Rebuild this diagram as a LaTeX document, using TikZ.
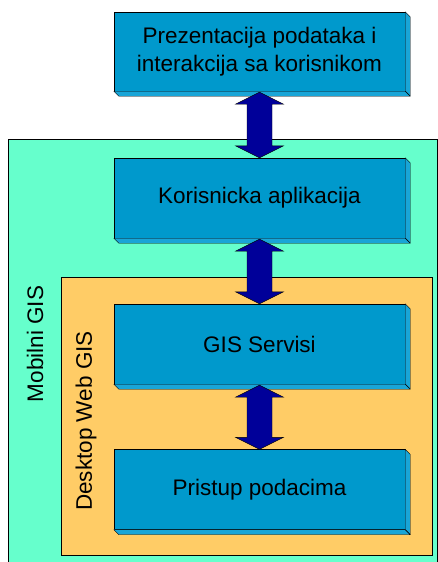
\documentclass[tikz,border=0pt]{standalone}
\usepackage{fontspec}
\setmainfont{Liberation Sans}
\usetikzlibrary{calc}
\definecolor{slojplava}{RGB}{0,153,204}
\definecolor{slojbok}{RGB}{25,165,215}
\definecolor{mobilna}{RGB}{102,255,204}
\definecolor{desktop}{RGB}{255,204,102}
\definecolor{strelica}{RGB}{0,0,153}
\tikzset{
  sloj/.style={draw, fill=slojplava, minimum width=291pt, minimum height=80pt,
    inner sep=0pt, align=center, font=\fontsize{22.5}{27.5}\selectfont},
  okvir/.style={draw, line width=0.6pt},
  oznaka/.style={rotate=90, font=\fontsize{22.5}{27}\selectfont},
  dubina/.style={draw, fill=slojbok, line join=round},
  debela/.style={draw, fill=strelica, line join=miter}
}
% depth of the 3D layer
\newcommand{\dubinasloja}[1]{%
  \path[dubina] (#1.north east) -- ++(5,5) -- ($(#1.south east)+(5,5)$) -- (#1.south east) -- cycle;
  \path[dubina] (#1.south west) -- ++(5,5) -- ($(#1.south east)+(5,5)$) -- (#1.south east) -- cycle;}
% double arrow between two layers
\newcommand{\dvostruka}[2]{%
  \path[debela] let \p1=($(#1.south)+(0,1)$), \p2=($(#2.north)$) in
    (\x1,\y1) -- (\x1+24,\y1-12) -- (\x1+12.5,\y1-12) -- (\x1+12.5,\y2+12)
    -- (\x1+24,\y2+12) -- (\x1,\y2) -- (\x1-24,\y2+12) -- (\x1-12.5,\y2+12)
    -- (\x1-12.5,\y1-12) -- (\x1-24,\y1-12) -- cycle;}
\begin{document}
\begin{tikzpicture}[x=1pt,y=-1pt]
    \useasboundingbox (0,0) rectangle (438,562);
    % Okviri
    \draw[okvir, fill=mobilna] (8,139) rectangle (437,563);
    \draw[okvir, fill=desktop] (61,277) rectangle (432,555);
    \node[oznaka] (mobilni) at (35,344) {Mobilni GIS};
    \node[oznaka] (desktopweb) at (86,421) {Desktop Web GIS};
    % Slojevi
    \node[sloj, minimum height=79pt] (prezentacija) at (259.5,51.5) {Prezentacija podataka i\\interakcija sa korisnikom};
    \node[sloj] (aplikacija) at (259.5,198) {Korisnicka aplikacija};
    \node[sloj] (servisi) at (259.5,344) {GIS Servisi};
    \node[sloj] (pristup) at (259.5,489.5) {Pristup podacima};
    \foreach \s in {prezentacija,aplikacija,servisi,pristup}
      \dubinasloja{\s};
    % Strelice
    \dvostruka{prezentacija}{aplikacija}
    \dvostruka{aplikacija}{servisi}
    \dvostruka{servisi}{pristup}
\end{tikzpicture}
\end{document}
